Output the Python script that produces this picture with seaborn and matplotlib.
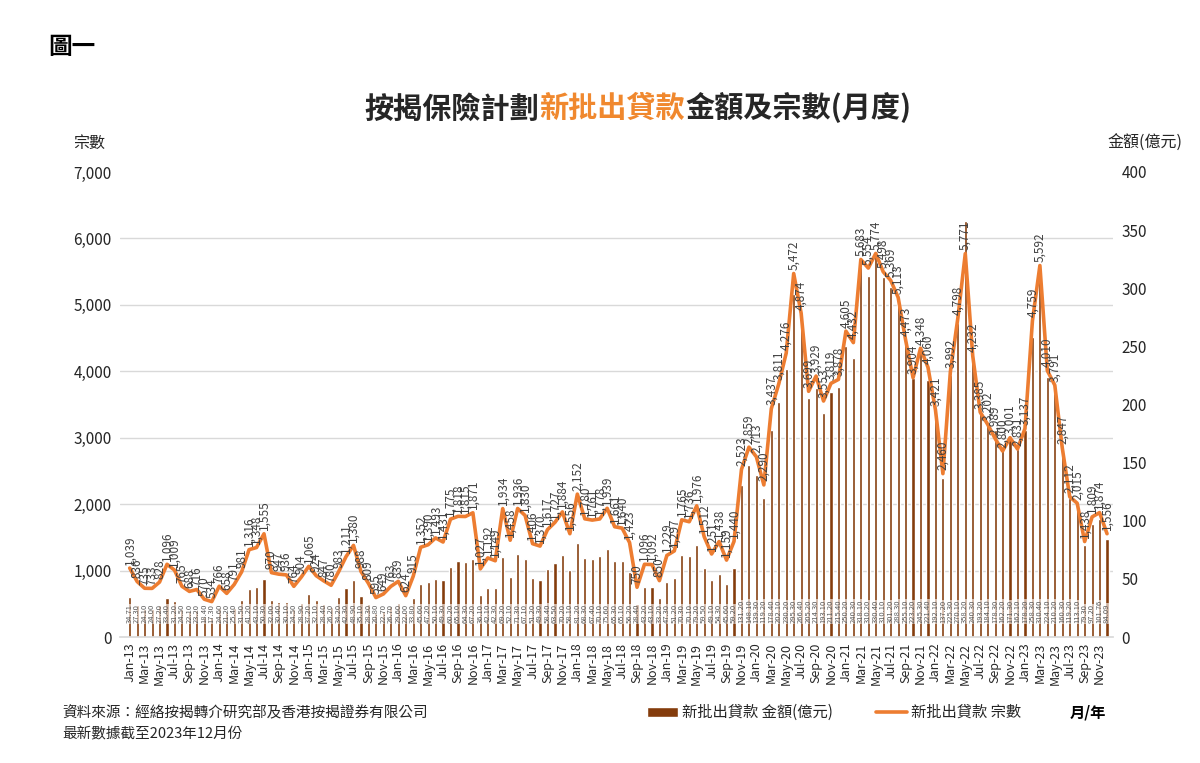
import numpy as np
import pandas as pd
import matplotlib
matplotlib.use('Agg')
import matplotlib.pyplot as plt
from matplotlib.patches import Patch
from matplotlib.lines import Line2D
from matplotlib.ticker import FuncFormatter
import seaborn as sns

# monthly labels Jan-13 .. Dec-23
months = pd.date_range('2013-01-01', periods=132, freq='MS').strftime('%b-%y').tolist()

# 新批出貸款 宗數 (left axis)
counts = [
    1039, 836, 735, 733, 828, 1096, 1009, 765, 688, 716, 570, 534,      # 2013
    766, 658, 791, 981, 1316, 1348, 1555, 970, 947, 936, 764, 904,      # 2014
    1065, 924, 847, 780, 983, 1211, 1380, 988, 809, 595, 649, 763,      # 2015
    839, 624, 915, 1352, 1390, 1493, 1431, 1775, 1818, 1815, 1871, 1027,  # 2016
    1192, 1149, 1934, 1458, 1936, 1830, 1406, 1370, 1617, 1727, 1884, 1556,  # 2017
    2152, 1780, 1761, 1778, 1939, 1661, 1640, 1423, 750, 1096, 1092, 850,   # 2018
    1229, 1297, 1765, 1736, 1976, 1512, 1251, 1438, 1159, 1440, 2523, 2859,  # 2019
    2713, 2290, 3437, 3811, 4276, 5472, 4874, 3699, 3929, 3553, 3819, 3878,  # 2020
    4605, 4432, 5683, 5554, 5774, 5498, 5369, 5113, 4473, 3904, 4348, 4060,  # 2021
    3421, 2460, 3992, 4798, 5771, 4232, 3385, 3202, 2989, 2800, 3001, 2831,  # 2022
    3137, 4759, 5592, 4010, 3791, 2847, 2112, 2015, 1438, 1809, 1874, 1556,  # 2023
]

# 新批出貸款 金額(億元) (right axis)
amounts = [
    34.71, 27.3, 24.1, 24.0, 27.2, 33.4, 31.2, 24.5, 22.1, 23.2, 18.4, 17.3,
    24.6, 21.2, 25.4, 31.5, 41.2, 43.1, 50.3, 32.0, 30.4, 30.1, 24.5, 28.9,
    37.2, 32.1, 28.4, 26.2, 34.2, 42.3, 48.9, 35.1, 28.3, 20.8, 22.7, 26.7,
    29.6, 22.0, 33.8, 45.6, 47.2, 50.1, 49.3, 60.2, 65.1, 64.3, 67.2, 36.1,
    42.1, 42.3, 69.2, 52.1, 71.3, 67.1, 51.2, 49.3, 58.4, 63.5, 70.2, 58.1,
    81.2, 68.3, 67.4, 70.1, 75.6, 65.3, 65.1, 56.2, 28.4, 43.2, 43.1, 33.2,
    47.3, 51.2, 70.3, 70.1, 79.2, 59.5, 49.1, 54.3, 45.6, 59.2, 131.2, 148.1,
    139.3, 119.2, 178.4, 202.1, 230.2, 295.3, 266.4, 205.2, 214.3, 193.1, 211.2, 215.4,
    250.2, 240.3, 318.1, 310.2, 330.4, 310.1, 301.2, 288.3, 255.1, 223.2, 245.3, 221.4,
    192.1, 137.2, 225.3, 270.1, 358.2, 240.3, 193.2, 184.1, 178.3, 162.2, 171.3, 162.1,
    178.2, 258.3, 310.4, 224.1, 210.2, 160.3, 119.2, 113.1, 79.3, 97.2, 101.76, 84.09,
]

BAR = '#843C0C'
LINE = '#ED7D31'
TITLE_ORANGE = '#F0882E'
TXT = '#262626'

df = pd.DataFrame({'month': months, 'pos': np.arange(len(months)),
                   'count': counts, 'amount': amounts})

sns.set_theme(style='white')
plt.rcParams['font.family'] = ['Noto Sans CJK TC', 'DejaVu Sans']

fig = plt.figure(figsize=(12, 7.63), dpi=100)
ax = fig.add_axes([0.1, 0.165, 0.8275, 0.6096])
ax2 = ax.twinx()

# bars on the right axis, behind
sns.barplot(data=df, x='month', y='amount', color=BAR, width=0.42,
            saturation=1, errorbar=None, ax=ax2)
for i, a in enumerate(amounts):
    ax2.text(i, 12, f'{a:.2f}', rotation=90, ha='center', va='bottom',
             fontsize=5.5, color='#595959',
             bbox=dict(facecolor='white', alpha=0.6, edgecolor='none', pad=0.3))

# line on the left axis, in front
sns.lineplot(data=df, x='pos', y='count', color=LINE, linewidth=2.6, ax=ax)
for i, c in enumerate(counts):
    ax.annotate(f'{c:,}', (i, c), xytext=(0, 2.5), textcoords='offset points',
                rotation=90, ha='center', va='bottom', fontsize=8.5, color='#404040')

ax.set_zorder(ax2.get_zorder() + 1)
ax.patch.set_visible(False)

ax.set_xlim(-1.3, 131.8)
ax.set_ylim(0, 7000)
ax2.set_ylim(0, 400)

ax.set_yticks(np.arange(0, 7001, 1000))
ax.yaxis.set_major_formatter(FuncFormatter(lambda v, p: f'{v:,.0f}'))
ax2.set_yticks(np.arange(0, 401, 50))

# grid follows the left axis, drawn under the bars
ax2.set_yticks(np.arange(0, 7001, 1000) * 400 / 7000, minor=True)
ax2.grid(which='minor', axis='y', color='#d9d9d9', linewidth=1)
ax2.grid(which='major', visible=False)

ax.set_xticks(np.arange(0, len(months), 2))
ax.set_xticklabels(months[::2], rotation=90, fontsize=9, color=TXT)
ax.tick_params(axis='y', labelsize=11, length=0, labelcolor=TXT, pad=6)
ax.tick_params(axis='x', length=0, pad=4)
ax2.tick_params(axis='y', which='both', labelsize=11, length=0, labelcolor=TXT, pad=6)

ax.set_xlabel('')
ax.set_ylabel('')
ax2.set_xlabel('')
ax2.set_ylabel('')

for s in ['left', 'right', 'top']:
    ax.spines[s].set_visible(False)
ax.spines['bottom'].set_color('#d9d9d9')
for s in ax2.spines.values():
    s.set_visible(False)

# axis titles
fig.text(0.061, 0.812, '宗數', fontsize=11.5, color=TXT, va='center')
fig.text(0.923, 0.812, '金額(億元)', fontsize=11.5, color=TXT, va='center')

# headings
fig.text(0.04, 0.938, '圖一', fontsize=17, fontweight='bold', color='black', va='center')
t1 = fig.text(0.304, 0.858, '按揭保險計劃', fontsize=21, fontweight='bold',
              color=TXT, va='center')
t2 = ax.annotate('新批出貸款', xy=(1, 0), xycoords=t1, ha='left', va='bottom',
                 fontsize=21, fontweight='bold', color=TITLE_ORANGE)
t3 = ax.annotate('金額及宗數(月度)', xy=(1, 0), xycoords=t2, ha='left', va='bottom',
                 fontsize=21, fontweight='bold', color=TXT)

# legend and notes
handles = [Patch(facecolor=BAR, label='新批出貸款 金額(億元)'),
           Line2D([0], [0], color=LINE, linewidth=2.6, label='新批出貸款 宗數')]
fig.legend(handles=handles, loc='center left', bbox_to_anchor=(0.528, 0.066),
           ncol=2, frameon=False, fontsize=11, handlelength=2.0,
           handleheight=0.6, handletextpad=0.3, columnspacing=2.8)
fig.text(0.891, 0.066, '月/年', fontsize=11, fontweight='bold', color='black', va='center')
fig.text(0.052, 0.066, '資料來源：經絡按揭轉介研究部及香港按揭證券有限公司',
         fontsize=10.5, color=TXT, va='center')
fig.text(0.052, 0.037, '最新數據截至2023年12月份', fontsize=10.5, color=TXT, va='center')

fig.savefig('out.png', dpi=100, facecolor='white')
